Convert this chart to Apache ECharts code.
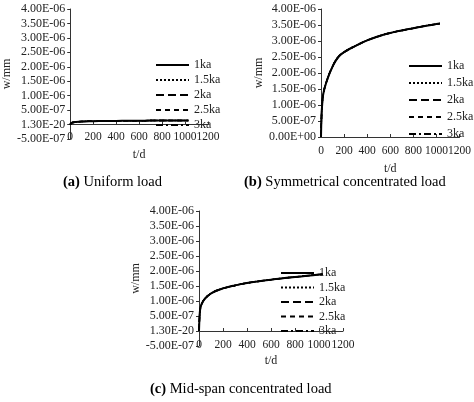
<!DOCTYPE html><html><head><meta charset="utf-8">
<script src="https://cdn.jsdelivr.net/npm/echarts@6/dist/echarts.min.js"></script>
<style>html,body{margin:0;padding:0;background:#fff}#c{width:474px;height:402px}</style></head><body><div id="c"></div><script>
const seriesNames=['1ka','1.5ka','2ka','2.5ka','3ka'];
const tA=[0,5,10,20,50,100,200,300,400,500,600,700,800,900,1000,1030];
const wA=[0,0.03e-6,0.05e-6,0.07e-6,0.09e-6,0.105e-6,0.115e-6,0.122e-6,0.127e-6,0.131e-6,0.134e-6,0.137e-6,0.139e-6,0.141e-6,0.143e-6,0.144e-6];
const tB=[0,5,10,20,50,100,150,200,300,400,500,600,700,800,900,1000,1030];
const wB=[0,0.7e-6,1.0e-6,1.35e-6,1.75e-6,2.2e-6,2.5e-6,2.65e-6,2.85e-6,3.02e-6,3.15e-6,3.25e-6,3.33e-6,3.4e-6,3.47e-6,3.53e-6,3.55e-6];
const tC=[0,5,10,20,50,100,150,200,300,400,500,600,700,800,900,1000,1030];
const wC=[0,0.5e-6,0.72e-6,0.88e-6,1.08e-6,1.25e-6,1.35e-6,1.42e-6,1.52e-6,1.6e-6,1.66e-6,1.71e-6,1.76e-6,1.8e-6,1.84e-6,1.88e-6,1.89e-6];
const titles=['(a)',' Uniform load','(b)',' Symmetrical concentrated load','(c)',' Mid-span concentrated load'];
const styles=[{type:'solid',width:2},{type:'dotted',width:1.5},{type:'dashed',width:1.5},{type:[5,4],width:1.5},{type:[7,3,2,3],width:1.5}];
const F='"Liberation Serif", serif';
function fmt(zero){return v=>{if(Math.abs(v)<1e-12)return zero;const s=v.toExponential(2).toUpperCase();const m=s.split('E');const e=parseInt(m[1]);return m[0]+'E'+(e<0?'-':'+')+String(Math.abs(e)).padStart(2,'0');};}
const grids=[{left:63,top:9,width:145,height:130},{left:321,top:9,width:141,height:128},{left:199,top:211,width:144,height:135}];
const mins=[-5e-7,0,-5e-7];const zeros=['1.30E-20','0.00E+00','1.30E-20'];
const xMargins=[-8,8,-7];const xNameGaps=[10,26,9];
const data=[[tA,wA],[tB,wB],[tC,wC]];
const legendPos=[{left:150,top:54,gap:3},{left:403,top:55,gap:5},{left:275,top:262,gap:2.5}];
const option={animation:false,grid:grids,
xAxis:grids.map((g,i)=>({gridIndex:i,type:'value',min:0,max:1200,interval:200,name:'t/d',nameLocation:'middle',nameGap:xNameGaps[i],nameTextStyle:{fontFamily:F,fontSize:12,color:'#222'},axisLine:{onZero:true,lineStyle:{color:'#333'}},axisTick:{inside:true,length:3},splitLine:{show:false},axisLabel:{fontFamily:F,fontSize:11.5,color:'#222',margin:xMargins[i],showMaxLabel:true,hideOverlap:false,formatter:v=>String(v)}})),
yAxis:grids.map((g,i)=>({gridIndex:i,type:'value',min:mins[i],max:4e-6,interval:5e-7,name:'w/mm',nameLocation:'middle',nameGap:i==1?56:56,nameTextStyle:{fontFamily:F,fontSize:12,color:'#222'},axisLine:{show:true,lineStyle:{color:'#333'}},axisTick:{show:true,length:3},splitLine:{show:false},axisLabel:{fontFamily:F,fontSize:12,color:'#222',formatter:fmt(zeros[i]),margin:5}})),
legend:legendPos.map(p=>({left:p.left,top:p.top,orient:'vertical',itemWidth:33,itemHeight:11,itemGap:p.gap,data:seriesNames,itemStyle:{opacity:0},textStyle:{fontFamily:F,fontSize:12,color:'#222'},selectedMode:false})),
series:[]};
for(let g=0;g<3;g++){seriesNames.forEach((n,k)=>{option.series.push({name:n,type:'line',xAxisIndex:g,yAxisIndex:g,symbol:'none',smooth:true,data:data[g][0].map((t,j)=>[t,data[g][1][j]]),lineStyle:{color:'#000',type:styles[k].type,width:styles[k].width},itemStyle:{color:'#000'},z:10-k});});}
const rich={b:{fontWeight:'bold',fontFamily:F,fontSize:14.5},n:{fontFamily:F,fontSize:14.5}};
option.graphic=[
{type:'text',x:63,y:175,style:{rich,text:'{b|'+titles[0]+'}{n|'+titles[1]+'}',fill:'#000'}},
{type:'text',x:244,y:175,style:{rich,text:'{b|'+titles[2]+'}{n|'+titles[3]+'}',fill:'#000'}},
{type:'text',x:150,y:382,style:{rich,text:'{b|'+titles[4]+'}{n|'+titles[5]+'}',fill:'#000'}}];
echarts.init(document.getElementById('c')).setOption(option);
</script></body></html>
